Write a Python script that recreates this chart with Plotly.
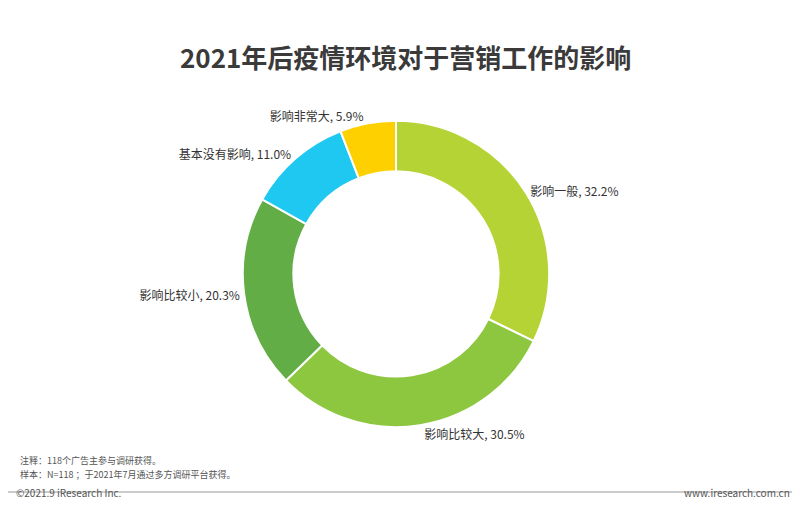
import plotly.graph_objects as go

labels = ["影响一般", "影响比较大", "影响比较小", "基本没有影响", "影响非常大"]
values = [32.2, 30.5, 20.3, 11.0, 5.9]
colors = ["#B5D334", "#8DC63F", "#62AD45", "#1FC8F0", "#FFD000"]

texts = [f"{l}, {v}%" for l, v in zip(labels, values)]

fig = go.Figure(go.Pie(
    labels=labels, values=values, text=texts, textinfo="text",
    textposition="outside", hole=0.67, sort=False, direction="clockwise",
    rotation=0, marker=dict(colors=colors, line=dict(color="white", width=2)),
    textfont=dict(size=12, color="#333"), showlegend=False, automargin=False,
    domain=dict(x=[0.175, 0.795], y=[0.175, 0.778]),
))
font = "Noto Sans CJK SC"
ann = lambda t, x, y, xa, s, c="#555": dict(
    text=t, x=x, y=y, xref="paper", yref="paper", xanchor=xa, showarrow=False,
    font=dict(size=s, color=c))
fig.update_layout(
    width=800, height=508, autosize=False, margin=dict(l=0, r=0, t=0, b=0, pad=0),
    paper_bgcolor="white", font=dict(family=font),
    annotations=[
        ann("<b>2021年后疫情环境对于营销工作的影响</b>", 0.497, 1-28/508, "center", 26, "#3a3a3a"),
        ann("注释：118个广告主参与调研获得。", 0.012, 1-461/508, "left", 9),
        ann("样本：N=118 ；于2021年7月通过多方调研平台获得。", 0.012, 1-475/508, "left", 9),
        ann("©2021.9 iResearch Inc.", 0.008, 1-494/508, "left", 10),
        ann("www.iresearch.com.cn", 0.98, 1-494/508, "right", 10),
    ],
    shapes=[dict(type="line", xref="paper", yref="paper", x0=0, x1=1, y0=1-484/508, y1=1-484/508,
                 line=dict(color="#999", width=1))],
)
fig.write_html("out.html")
